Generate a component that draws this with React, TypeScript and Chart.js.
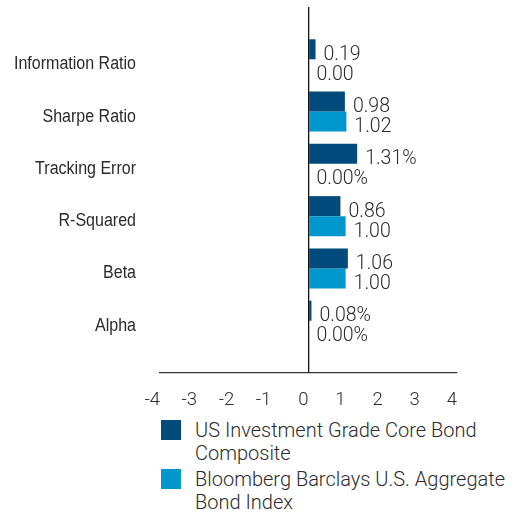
import React, { useEffect, useRef } from "react";
import { Chart, registerables } from "chart.js";

Chart.register(...registerables);

const categories = ["", "Information Ratio", "Sharpe Ratio", "Tracking Error", "R-Squared", "Beta", "Alpha", ""];
const compositeValues = [null, 0.19, 0.98, 1.31, 0.86, 1.06, 0.08, null];
const indexValues = [null, 0.0, 1.02, 0.0, 1.0, 1.0, 0.0, null];
const valueSuffixes = ["", "", "", "%", "", "", "%", ""];
const seriesNames = [
  ["US Investment Grade Core Bond", "Composite"],
  ["Bloomberg Barclays U.S. Aggregate", "Bond Index"],
];
const seriesColors = ["#004a7c", "#0097cc"];
const xMin = -4;
const xMax = 4;

const LIGHT_FONT = "Roboto, 'Liberation Sans', sans-serif";
const TEXT_COLOR = "#2b2b2b";

const valueLabelPlugin = {
  id: "valueLabels",
  afterDatasetsDraw(chart: any) {
    const ctx = chart.ctx;
    ctx.save();
    ctx.font = `300 19.5px ${LIGHT_FONT}`;
    ctx.fillStyle = TEXT_COLOR;
    ctx.textAlign = "left";
    ctx.textBaseline = "alphabetic";
    chart.data.datasets.forEach((ds: any, di: number) => {
      const meta = chart.getDatasetMeta(di);
      meta.data.forEach((bar: any, i: number) => {
        const v = ds.data[i];
        if (v === null || v === undefined) return;
        const x = Math.max(bar.x, bar.base) + 8;
        ctx.fillText(v.toFixed(2) + valueSuffixes[i], x, bar.y + 10.5);
      });
    });
    ctx.restore();
  },
};

// category labels drawn in a condensed style, positioned by the y scale
const categoryLabelPlugin = {
  id: "categoryLabels",
  afterDraw(chart: any) {
    const ctx = chart.ctx;
    const yScale = chart.scales.y;
    const rightEdge = chart.chartArea.left - 24;
    ctx.save();
    ctx.font = "18px 'Liberation Sans', Arial, sans-serif";
    ctx.fillStyle = TEXT_COLOR;
    ctx.textAlign = "right";
    ctx.textBaseline = "alphabetic";
    categories.forEach((label, i) => {
      if (!label) return;
      const y = yScale.getPixelForTick(i);
      ctx.save();
      ctx.translate(rightEdge, y + 10);
      ctx.scale(0.89, 1);
      ctx.fillText(label, 0, 0);
      ctx.restore();
    });
    ctx.restore();
  },
};

export default function App() {
  const canvasRef = useRef<HTMLCanvasElement | null>(null);

  useEffect(() => {
    const canvas = canvasRef.current;
    if (!canvas) return;
    const chart = new Chart(canvas, {
      type: "bar",
      data: {
        labels: categories,
        datasets: [
          {
            label: seriesNames[0].join(" "),
            data: compositeValues,
            backgroundColor: seriesColors[0],
            barThickness: 20,
            inflateAmount: 0,
          },
          {
            label: seriesNames[1].join(" "),
            data: indexValues,
            backgroundColor: seriesColors[1],
            barThickness: 20,
            inflateAmount: 0,
          },
        ],
      },
      options: {
        indexAxis: "y",
        animation: false,
        responsive: false,
        maintainAspectRatio: false,
        layout: { padding: { top: 7, right: 57, left: 0, bottom: 0 } },
        plugins: {
          legend: { display: false },
          tooltip: { enabled: false },
        },
        scales: {
          x: {
            type: "linear",
            min: xMin,
            max: xMax,
            ticks: {
              stepSize: 1,
              padding: 16,
              align: "end",
              color: TEXT_COLOR,
              font: { family: LIGHT_FONT, size: 18.5, weight: "300" },
            },
            grid: {
              drawTicks: false,
              color: (c: any) => (c.tick && c.tick.value === 0 ? "#111" : "rgba(0,0,0,0)"),
              lineWidth: 1.3,
            },
            border: { display: true, color: "#333", width: 1.3 },
            afterFit(scale: any) {
              scale.height = 43;
              scale.paddingLeft = 0;
              scale.paddingRight = 0;
            },
          },
          y: {
            type: "category",
            offset: false,
            ticks: { display: false },
            grid: { display: false, drawTicks: false },
            border: { display: false },
            afterFit(scale: any) {
              scale.width = 160;
              scale.paddingTop = 0;
              scale.paddingBottom = 0;
            },
          },
        },
      },
      plugins: [valueLabelPlugin, categoryLabelPlugin],
    });
    return () => chart.destroy();
  }, []);

  const legendText: React.CSSProperties = {
    fontFamily: LIGHT_FONT,
    fontWeight: 300,
    fontSize: 20,
    lineHeight: "23px",
    color: TEXT_COLOR,
    whiteSpace: "nowrap",
  };

  return (
    <div style={{ position: "absolute", left: 0, top: 0, width: 514, height: 516, background: "#fff" }}>
      <canvas ref={canvasRef} width={514} height={416} style={{ display: "block", width: 514, height: 416 }} />
      {seriesNames.map((lines, i) => (
        <div key={i} style={{ position: "absolute", left: 161, top: i === 0 ? 420 : 469, display: "flex" }}>
          <div style={{ width: 20, height: 20, background: seriesColors[i], flex: "none" }} />
          <div style={{ ...legendText, marginLeft: 14, marginTop: -1 }}>
            {lines.map((l, j) => (
              <div key={j}>{l}</div>
            ))}
          </div>
        </div>
      ))}
    </div>
  );
}
